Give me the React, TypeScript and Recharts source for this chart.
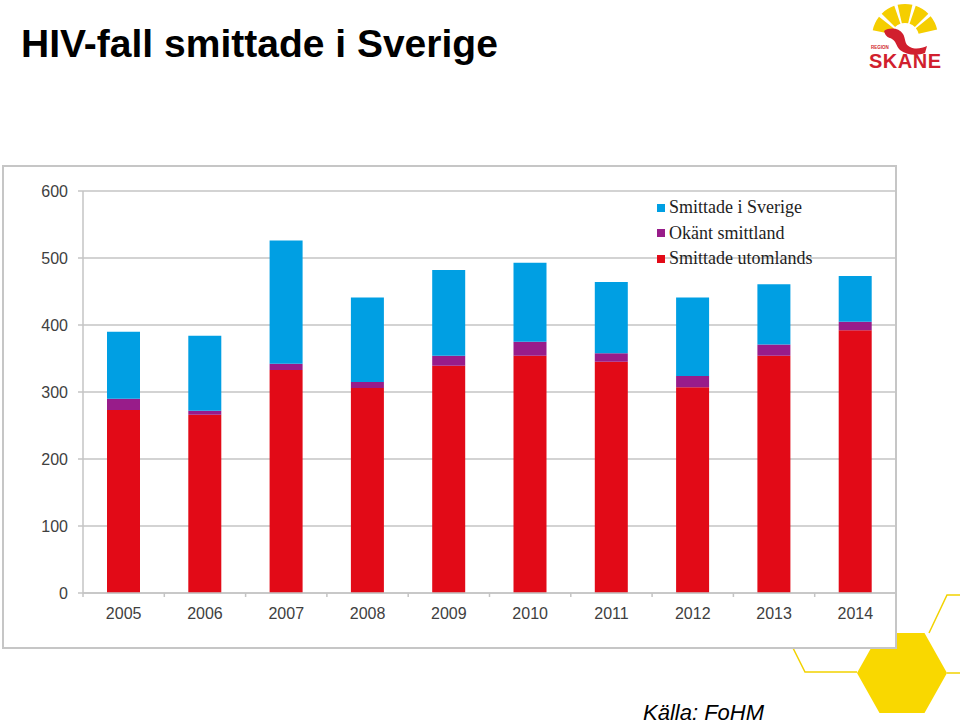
import React from 'react';
import { BarChart, Bar, XAxis, YAxis, CartesianGrid, Legend } from 'recharts';

const years = ['2005', '2006', '2007', '2008', '2009', '2010', '2011', '2012', '2013', '2014'];
const smittadeUtomlands = [273, 266, 333, 306, 339, 354, 345, 307, 354, 392];
const okantSmittland = [17, 6, 9, 9, 15, 21, 13, 17, 17, 13];
const smittadeSverige = [100, 112, 184, 126, 128, 118, 106, 117, 90, 68];
const yTicks = [0, 100, 200, 300, 400, 500, 600];

const seriesNames = {
  utomlands: 'Smittade utomlands',
  okant: 'Okänt smittland',
  sverige: 'Smittade i Sverige',
};
const colors = {
  utomlands: '#E20A17',
  okant: '#981C8A',
  sverige: '#009FE3',
};

const data = years.map((y, i) => ({
  year: y,
  utomlands: smittadeUtomlands[i],
  okant: okantSmittland[i],
  sverige: smittadeSverige[i],
}));

const W = 960;
const H = 724;
const PLOT_LEFT = 83;
const PLOT_RIGHT = 896;
const PLOT_TOP = 191;
const PLOT_BOTTOM = 593;
const Y_AXIS_W = 60;
const X_AXIS_H = 40;
const STEP = (PLOT_RIGHT - PLOT_LEFT) / years.length;
const GRID = '#C4C4C4';
const TICK_COLOR = '#404040';

const XTick = (props: any) => {
  const { x, y, payload, index } = props;
  const axisY = y - 15;
  return (
    <g>
      <line x1={x - STEP / 2} x2={x - STEP / 2} y1={axisY} y2={axisY + 4} stroke={GRID} strokeWidth={1.5} />
      {index === years.length - 1 && (
        <line x1={x + STEP / 2} x2={x + STEP / 2} y1={axisY} y2={axisY + 4} stroke={GRID} strokeWidth={1.5} />
      )}
      <text x={x} y={y} dy="0.71em" textAnchor="middle" fill={TICK_COLOR} fontSize={16} fontFamily="Liberation Sans, Arial, sans-serif">
        {payload.value}
      </text>
    </g>
  );
};

const LegendContent = () => {
  const items = [
    { key: 'sverige', name: seriesNames.sverige, color: colors.sverige },
    { key: 'okant', name: seriesNames.okant, color: colors.okant },
    { key: 'utomlands', name: seriesNames.utomlands, color: colors.utomlands },
  ];
  return (
    <div style={{ fontFamily: 'Liberation Serif, DejaVu Serif, serif', fontSize: 18, color: '#1e1e1e' }}>
      {items.map((it) => (
        <div key={it.key} style={{ display: 'flex', alignItems: 'center', height: 25.5, whiteSpace: 'nowrap' }}>
          <span style={{ display: 'inline-block', width: 8, height: 8, background: it.color, marginRight: 4 }} />
          <span>{it.name}</span>
        </div>
      ))}
    </div>
  );
};

const hexPoints = (cx: number, cy: number, rx: number, ry: number) => {
  const pts = [
    [cx - rx, cy],
    [cx - rx / 2, cy - ry],
    [cx + rx / 2, cy - ry],
    [cx + rx, cy],
    [cx + rx / 2, cy + ry],
    [cx - rx / 2, cy + ry],
  ];
  return pts.map((p) => p.join(',')).join(' ');
};

const Logo = () => {
  const cx = 905;
  const cy = 37;
  const rays = [155, 122, 90, 58, 26];
  const toXY = (r: number, a: number) => {
    const rad = (a * Math.PI) / 180;
    return [cx + r * Math.cos(rad), cy - r * Math.sin(rad)];
  };
  return (
    <g>
      {rays.map((a, i) => {
        const r1 = 14;
        const r2 = 33;
        const half = 13;
        const p1 = toXY(r1, a - half);
        const p2 = toXY(r2, a - half);
        const p3 = toXY(r2, a + half);
        const p4 = toXY(r1, a + half);
        return (
          <path
            key={i}
            d={`M${p1[0]},${p1[1]} L${p2[0]},${p2[1]} A${r2},${r2} 0 0 0 ${p3[0]},${p3[1]} L${p4[0]},${p4[1]} A${r1},${r1} 0 0 1 ${p1[0]},${p1[1]} Z`}
            fill="#F5CE00"
          />
        );
      })}
      <path
        d="M884,31 C890,27 899,28 903,34 C906,39 904,44 910,47 C916,50 922,48 927,46 L925,53 C917,56 906,55 900,50 C896,46 896,41 892,39 C889,37 886,38 884,31 Z"
        fill="#D11F2E"
      />
      <text x={871} y={49} fontSize={4.5} fontWeight="bold" fill="#D11F2E" fontFamily="Liberation Sans, Arial, sans-serif">
        REGION
      </text>
      <text x={869} y={68} fontSize={20} fontWeight="bold" fill="#D11F2E" fontFamily="Liberation Sans, Arial, sans-serif" textLength={72}>
        SKANE
      </text>
    </g>
  );
};

export default function App() {
  return (
    <div style={{ position: 'absolute', left: 0, top: 0, width: W, height: H, background: '#fff', overflow: 'hidden' }}>
      <svg width={W} height={H} style={{ position: 'absolute', left: 0, top: 0 }}>
        <text x={21} y={57} fontSize={39} fontWeight="bold" fill="#000" fontFamily="Liberation Sans, Arial, sans-serif">
          HIV-fall smittade i Sverige
        </text>
        <text x={643} y={720} fontSize={22} fontStyle="italic" fill="#000" fontFamily="Liberation Sans, Arial, sans-serif">
          Källa: FoHM
        </text>
        <polygon points={hexPoints(902, 673, 45, 40)} fill="#F9D800" />
        <polyline points="781,624 805,672 857,672" fill="none" stroke="#F2D200" strokeWidth={1.5} />
        <polyline points="929,633 947,595 960,595" fill="none" stroke="#F2D200" strokeWidth={1.5} />
        <polyline points="947,673 960,673" fill="none" stroke="#F2D200" strokeWidth={1.5} />
        <Logo />
      </svg>
      <div
        style={{
          position: 'absolute',
          left: 2,
          top: 165,
          width: 891,
          height: 480,
          border: '2px solid #C6C6C6',
          background: '#fff',
        }}
      />
      <div style={{ position: 'absolute', left: 0, top: 0 }}>
        <BarChart
          width={W}
          height={H}
          data={data}
          margin={{
            top: PLOT_TOP,
            left: PLOT_LEFT - Y_AXIS_W,
            right: W - PLOT_RIGHT,
            bottom: H - PLOT_BOTTOM - X_AXIS_H,
          }}
          barSize={33}
        >
          <CartesianGrid vertical={false} stroke={GRID} strokeWidth={1.5} />
          <XAxis
            dataKey="year"
            height={X_AXIS_H}
            axisLine={{ stroke: GRID, strokeWidth: 1.5 }}
            tickLine={false}
            tickSize={0}
            tickMargin={15}
            tick={<XTick />}
            interval={0}
          />
          <YAxis
            width={Y_AXIS_W}
            domain={[0, 600]}
            ticks={yTicks}
            axisLine={{ stroke: GRID, strokeWidth: 1.5 }}
            tickLine={{ stroke: GRID, strokeWidth: 1.5 }}
            tickSize={5}
            tickMargin={10}
            tick={{ fill: TICK_COLOR, fontSize: 16, fontFamily: 'Liberation Sans, Arial, sans-serif' }}
          />
          <Legend
            layout="vertical"
            align="center"
            verticalAlign="middle"
            content={<LegendContent />}
            wrapperStyle={{ position: 'absolute', left: 657, top: 195, width: 200, height: 80 }}
          />
          <Bar dataKey="utomlands" name={seriesNames.utomlands} stackId="a" fill={colors.utomlands} isAnimationActive={false} />
          <Bar dataKey="okant" name={seriesNames.okant} stackId="a" fill={colors.okant} isAnimationActive={false} />
          <Bar dataKey="sverige" name={seriesNames.sverige} stackId="a" fill={colors.sverige} isAnimationActive={false} />
        </BarChart>
      </div>
    </div>
  );
}
